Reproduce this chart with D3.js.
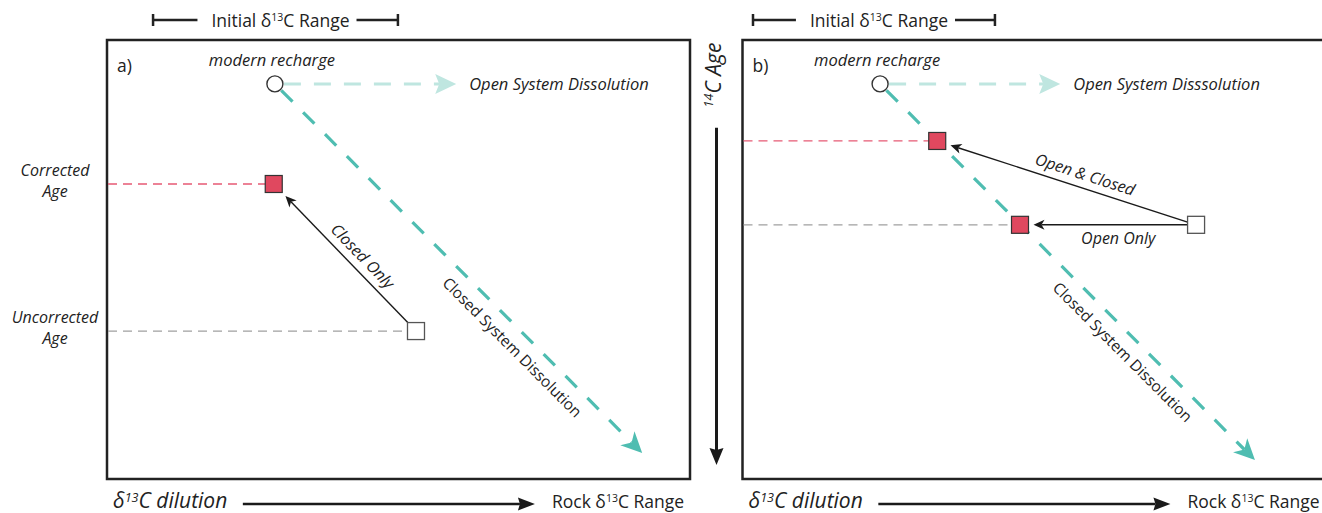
<!DOCTYPE html>
<html>
<head>
<meta charset="utf-8">
<script src="https://cdn.jsdelivr.net/npm/d3@7"></script>
<style>
  body { margin: 0; background: #fff; }
  text { font-family: "Open Sans", "Noto Sans", sans-serif; fill: #222; }
</style>
</head>
<body>
<svg id="chart" width="1322" height="513"></svg>
<script>
// schematic units: x = δ13C dilution (0-100 across a panel box), y = 14C age (0-100 down a panel box)
const panelNames = ["a)", "b)"];
const openLabels = ["Open System Dissolution", "Open System Disssolution"];
const recharge = [[28.8, 10.0], [23.6, 10.0]];
const openEnd = [59.9, 54.5];
const closedEnd = [[91.8, 94.1], [87.9, 95.7]];
const uncorrected = [[53.0, 66.3], [77.8, 42.1]];
const corrected = [[[28.6, 32.8]], [[33.4, 23.0], [47.6, 42.1]]];
const shiftLabels = [["Closed Only"], ["Open & Closed", "Open Only"]];
const initialRange = [[7.9, 49.9], [1.8, 43.3]];
const dilutionArrow = [23.3, 73.4];
const ageArrow = [20.0, 96.8];
const ageLabels = [["Corrected", "Age"], ["Uncorrected", "Age"]];

const boxW = 583, boxH = 439;
const panelX = [107, 742.5], panelY = 40;
const teal = "#4fbdb1", lightTeal = "#bfe6e0", red = "#e0485f";

const svg = d3.select("#chart");
const x = d3.scaleLinear().domain([0, 100]).range([0, boxW]);
const y = d3.scaleLinear().domain([0, 100]).range([0, boxH]);

// arrow head with its tip at (x2,y2); returns where the shaft should stop
function head(g, x1, y1, x2, y2, len, half, notch, color) {
  const a = Math.atan2(y2 - y1, x2 - x1);
  g.append("path")
    .attr("d", `M0,0L${-len},${-half}L${-len + notch},0L${-len},${half}Z`)
    .attr("transform", `translate(${x2},${y2}) rotate(${a * 180 / Math.PI})`)
    .attr("fill", color);
  return [x2 - Math.cos(a) * (len - notch), y2 - Math.sin(a) * (len - notch)];
}

// text with a δ13C in it
function delta(t, before, after) {
  t.append("tspan").text(before + "δ");
  t.append("tspan").attr("dy", -6).attr("font-size", "0.6em").text("13");
  t.append("tspan").attr("dy", 6).text(after);
  return t;
}

// point on a square's edge along the line to another point
function edge(c, o, half) {
  const dx = o[0] - c[0], dy = o[1] - c[1];
  const k = half / Math.max(Math.abs(dx), Math.abs(dy));
  return [c[0] + dx * k, c[1] + dy * k];
}

const sq = 17;

panelNames.forEach((name, i) => {
  const g = svg.append("g").attr("transform", `translate(${panelX[i]},${panelY})`);

  g.append("rect")
    .attr("width", boxW).attr("height", boxH)
    .attr("fill", "none").attr("stroke", "#222").attr("stroke-width", 2.5);

  g.append("text").attr("x", 10).attr("y", 32).attr("font-size", 17.5).text(name);

  const unc = [x(uncorrected[i][0]), y(uncorrected[i][1])];
  const cor = corrected[i].map(d => [x(d[0]), y(d[1])]);
  const rc = [x(recharge[i][0]), y(recharge[i][1])];

  // age guide lines
  cor.forEach(c => {
    const same = Math.abs(c[1] - unc[1]) < 1;
    g.append("line")
      .attr("x1", 1).attr("x2", c[0] - sq / 2).attr("y1", c[1]).attr("y2", c[1])
      .attr("stroke", same ? "#a0a0a0" : "#e65a74").attr("stroke-width", 1.3)
      .attr("stroke-dasharray", "9,6");
  });
  if (!cor.some(c => Math.abs(c[1] - unc[1]) < 1)) {
    g.append("line")
      .attr("x1", 1).attr("x2", unc[0] - sq / 2).attr("y1", unc[1]).attr("y2", unc[1])
      .attr("stroke", "#a0a0a0").attr("stroke-width", 1.3)
      .attr("stroke-dasharray", "9,6");
  }

  if (i === 0) {
    [cor[0], unc].forEach((p, k) => {
      const t = svg.append("text")
        .attr("text-anchor", "middle").attr("font-style", "italic").attr("font-size", 16);
      t.append("tspan").attr("x", 55).attr("y", panelY + p[1] - 8).text(ageLabels[k][0]);
      t.append("tspan").attr("x", 55).attr("y", panelY + p[1] + 13).text(ageLabels[k][1]);
    });
  }

  // open system (light) arrow
  const oe = [x(openEnd[i]), rc[1]];
  const os = head(g, rc[0], rc[1], oe[0], oe[1], 21, 10, 4, lightTeal);
  g.append("line")
    .attr("x1", rc[0] + 9).attr("y1", rc[1]).attr("x2", os[0]).attr("y2", os[1])
    .attr("stroke", lightTeal).attr("stroke-width", 3).attr("stroke-dasharray", "17,13");
  g.append("text")
    .attr("x", oe[0] + 13).attr("y", rc[1] + 6)
    .attr("font-style", "italic").attr("font-size", 16.5).text(openLabels[i]);

  // closed system (teal) arrow
  const ce = [x(closedEnd[i][0]), y(closedEnd[i][1])];
  const ca = Math.atan2(ce[1] - rc[1], ce[0] - rc[0]);
  const cs = head(g, rc[0], rc[1], ce[0], ce[1], 21, 10, 6, teal);
  g.append("line")
    .attr("x1", rc[0] + Math.cos(ca) * 9).attr("y1", rc[1] + Math.sin(ca) * 9)
    .attr("x2", cs[0]).attr("y2", cs[1])
    .attr("stroke", teal).attr("stroke-width", 3.2).attr("stroke-dasharray", "16,15");
  const lp = [rc[0] + (ce[0] - rc[0]) * 0.68, rc[1] + (ce[1] - rc[1]) * 0.68];
  g.append("text")
    .attr("transform", `translate(${lp[0]},${lp[1]}) rotate(${ca * 180 / Math.PI})`)
    .attr("text-anchor", "middle").attr("dy", 23).attr("font-size", 15.5)
    .text("Closed System Dissolution");

  // correction arrows from the measured sample to the corrected ages
  const labelOffset = i === 0 ? [-8] : [-8, 19];
  cor.forEach((c, k) => {
    const s = edge(unc, c, sq / 2);
    const e0 = edge(c, unc, sq / 2);
    const a = Math.atan2(unc[1] - c[1], unc[0] - c[0]);
    const tip = [e0[0] + Math.cos(a) * 5, e0[1] + Math.sin(a) * 5];
    const st = head(g, s[0], s[1], tip[0], tip[1], 11, 5, 3, "#1a1a1a");
    g.append("line")
      .attr("x1", s[0]).attr("y1", s[1]).attr("x2", st[0]).attr("y2", st[1])
      .attr("stroke", "#1a1a1a").attr("stroke-width", 1.4);
    const m = [tip[0] + (s[0] - tip[0]) * 0.55, tip[1] + (s[1] - tip[1]) * 0.55];
    g.append("text")
      .attr("transform", `translate(${m[0]},${m[1]}) rotate(${a * 180 / Math.PI})`)
      .attr("text-anchor", "middle").attr("dy", labelOffset[k])
      .attr("font-style", "italic").attr("font-size", 16)
      .text(shiftLabels[i][k]);
  });

  // samples
  g.selectAll("rect.cor").data(cor).join("rect").attr("class", "cor")
    .attr("x", d => d[0] - sq / 2).attr("y", d => d[1] - sq / 2)
    .attr("width", sq).attr("height", sq)
    .attr("fill", red).attr("stroke", "#333").attr("stroke-width", 1.2);
  g.append("rect")
    .attr("x", unc[0] - sq / 2).attr("y", unc[1] - sq / 2)
    .attr("width", sq).attr("height", sq)
    .attr("fill", "#fff").attr("stroke", "#555").attr("stroke-width", 1.3);

  g.append("circle")
    .attr("cx", rc[0]).attr("cy", rc[1]).attr("r", 8)
    .attr("fill", "#fff").attr("stroke", "#333").attr("stroke-width", 1.4);
  g.append("text")
    .attr("x", rc[0] - 3).attr("y", rc[1] - 18)
    .attr("text-anchor", "middle").attr("font-style", "italic").attr("font-size", 16.5)
    .text("modern recharge");

  // initial δ13C range bracket
  const r0 = x(initialRange[i][0]), r1 = x(initialRange[i][1]);
  const ht = delta(g.append("text")
      .attr("x", (r0 + r1) / 2 + 5).attr("y", -13)
      .attr("text-anchor", "middle").attr("font-size", 17.5), "Initial ", "C Range");
  const tw = ht.node().getComputedTextLength();
  const tx0 = (r0 + r1) / 2 + 5 - tw / 2, tx1 = (r0 + r1) / 2 + 5 + tw / 2;
  [[r0, tx0 - 14], [tx1 + 7, r1]].forEach(d => {
    g.append("line").attr("x1", d[0]).attr("x2", d[1]).attr("y1", -20).attr("y2", -20)
      .attr("stroke", "#222").attr("stroke-width", 2.5);
  });
  [r0, r1].forEach(v => {
    g.append("line").attr("x1", v).attr("x2", v).attr("y1", -26).attr("y2", -14)
      .attr("stroke", "#222").attr("stroke-width", 2.5);
  });

  // δ13C dilution axis
  delta(g.append("text")
      .attr("x", 6).attr("y", boxH + 29)
      .attr("font-style", "italic").attr("font-size", 21), "", "C dilution");
  const d0 = x(dilutionArrow[0]), d1 = x(dilutionArrow[1]);
  const ds = head(g, d0, boxH + 25, d1, boxH + 25, 17, 6.5, 2, "#1a1a1a");
  g.append("line").attr("x1", d0).attr("x2", ds[0]).attr("y1", boxH + 25).attr("y2", boxH + 25)
    .attr("stroke", "#1a1a1a").attr("stroke-width", 2.5);
  delta(g.append("text")
      .attr("x", d1 + 17).attr("y", boxH + 29).attr("font-size", 17.5), "Rock ", "C Range");
});

// 14C age axis between the panels
const ax = 716.5;
const a0 = panelY + y(ageArrow[0]), a1 = panelY + y(ageArrow[1]);
const as = head(svg, ax, a0, ax, a1, 17, 7, 2, "#1a1a1a");
svg.append("line").attr("x1", ax).attr("x2", ax).attr("y1", a0).attr("y2", as[1])
  .attr("stroke", "#1a1a1a").attr("stroke-width", 3);
const ageT = svg.append("text")
  .attr("transform", "translate(721,75) rotate(-90)")
  .attr("text-anchor", "middle").attr("font-style", "italic").attr("font-size", 21);
ageT.append("tspan").attr("dy", -8).attr("font-size", "0.6em").text("14");
ageT.append("tspan").attr("dy", 8).text("C Age");
</script>
</body>
</html>
